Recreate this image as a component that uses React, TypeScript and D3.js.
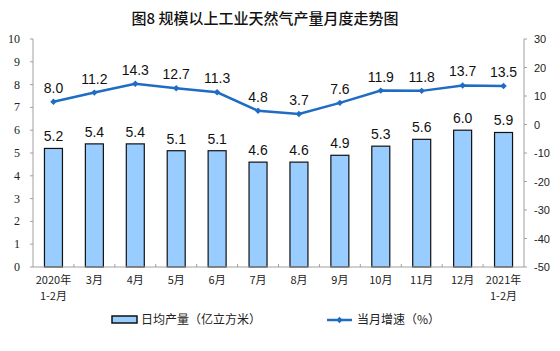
import React from "react";
import * as d3 from "d3";

const categories = ["2020年\n1-2月", "3月", "4月", "5月", "6月", "7月", "8月", "9月", "10月", "11月", "12月", "2021年\n1-2月"];
const output = [5.2, 5.4, 5.4, 5.1, 5.1, 4.6, 4.6, 4.9, 5.3, 5.6, 6.0, 5.9];
const growth = [8.0, 11.2, 14.3, 12.7, 11.3, 4.8, 3.7, 7.6, 11.9, 11.8, 13.7, 13.5];
const leftTicks = [0, 1, 2, 3, 4, 5, 6, 7, 8, 9, 10];
const rightTicks = [-50, -40, -30, -20, -10, 0, 10, 20, 30];

const W = 560, H = 351;
const x0 = 33, x1 = 524, yTop = 39, yBot = 267;
const blue = "#1E6CC4";
const fillBar = "#99CCFF";
const axisCol = "#A0A0A0";
const sans = "'Liberation Sans', Arial, sans-serif";
const serif = "'Liberation Serif', 'Times New Roman', serif";
const cjk = "'Noto Sans CJK SC', sans-serif";

export default function App() {
  const xs = d3.scaleBand().domain(categories.map((_, i) => String(i))).range([x0, x1]).paddingInner(0).paddingOuter(0);
  const yl = d3.scaleLinear().domain([0, 10]).range([yBot, yTop]);
  const yr = d3.scaleLinear().domain([-50, 30]).range([yBot, yTop]);
  const bw = 18;
  const cx = (i: number) => (xs(String(i)) as number) + xs.bandwidth() / 2;
  const line = d3.line<number>().x((_, i) => cx(i)).y((d) => yr(d));
  const diamond = (x: number, y: number, r = 3.2) => `M${x},${y - r}L${x + r},${y}L${x},${y + r}L${x - r},${y}Z`;

  return (
    <svg width={W} height={H} style={{ position: "absolute", left: 0, top: 0, background: "#fff" }}>
      <text x={265} y={24} textAnchor="middle" fontFamily={cjk} fontSize={15} fontWeight={500} fill="#111">图8 规模以上工业天然气产量月度走势图</text>
      {/* left axis */}
      <line x1={x0} x2={x0} y1={yTop} y2={yBot} stroke={axisCol} />
      {leftTicks.map((t) => (
        <g key={t}>
          <line x1={x0 - 3} x2={x0} y1={yl(t)} y2={yl(t)} stroke={axisCol} />
          <text x={20} y={yl(t) + 4} textAnchor="end" fontFamily={serif} fontSize={12} fill="#222">{t}</text>
        </g>
      ))}
      {/* right axis */}
      <line x1={x1} x2={x1} y1={yTop} y2={yBot} stroke={axisCol} />
      {rightTicks.map((t) => (
        <g key={t}>
          <line x1={x1} x2={x1 + 3} y1={yr(t)} y2={yr(t)} stroke={axisCol} />
          <text x={534} y={yr(t) + 4} textAnchor="start" fontFamily={sans} fontSize={11} fill="#222">{t}</text>
        </g>
      ))}
      {/* bars */}
      {output.map((v, i) => (
        <g key={i}>
          <rect x={cx(i) - bw / 2} y={yl(v)} width={bw} height={yBot - yl(v)} fill={fillBar} stroke="#111" strokeWidth={1.2} />
          <text x={cx(i)} y={yl(v) - 7} textAnchor="middle" fontFamily={sans} fontSize={14} fill="#111">{v.toFixed(1)}</text>
        </g>
      ))}
      {/* x axis */}
      <line x1={x0} x2={x1} y1={yBot} y2={yBot} stroke={axisCol} />
      {categories.map((_, i) => i > 0 ? (
        <line key={i} x1={xs(String(i)) as number} x2={xs(String(i)) as number} y1={yBot - 3} y2={yBot} stroke={axisCol} />
      ) : null)}
      {categories.map((c, i) => (
        <text key={i} textAnchor="middle" fontFamily={cjk} fontSize={11} fill="#222">
          {c.split("\n").map((s, j) => (
            <tspan key={j} x={cx(i)} y={284 + j * 16}>{s}</tspan>
          ))}
        </text>
      ))}
      {/* line */}
      <path d={line(growth) || ""} fill="none" stroke={blue} strokeWidth={2.5} />
      {growth.map((v, i) => (
        <g key={i}>
          <path d={diamond(cx(i), yr(v))} fill={blue} />
          <text x={cx(i)} y={yr(v) - 9} textAnchor="middle" fontFamily={sans} fontSize={14} fill="#111">{v.toFixed(1)}</text>
        </g>
      ))}
      {/* legend */}
      <rect x={112} y={316} width={25} height={7} fill={fillBar} stroke="#111" strokeWidth={1.5} />
      <text x={141} y={324} fontFamily={cjk} fontSize={12} fill="#222">日均产量（亿立方米）</text>
      <line x1={327} x2={352} y1={320} y2={320} stroke={blue} strokeWidth={2.5} />
      <path d={diamond(339.5, 320)} fill={blue} />
      <text x={357} y={324} fontFamily={cjk} fontSize={12} fill="#222">当月增速（%）</text>
    </svg>
  );
}
